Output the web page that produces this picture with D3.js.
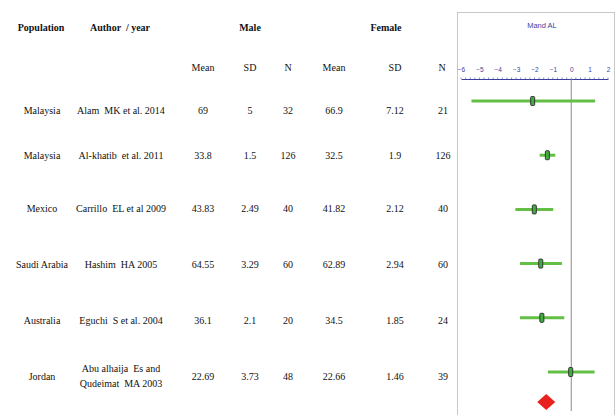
<!DOCTYPE html>
<html><head><meta charset="utf-8">
<script src="https://cdn.jsdelivr.net/npm/d3@7"></script>
<style>body{margin:0;background:#fff}svg{display:block}text{white-space:pre}</style>
</head><body><div id="c"></div>
<script>
const populations = ["Malaysia","Malaysia","Mexico","Saudi Arabia","Australia","Jordan"];
const authors = [["Alam  MK et al. 2014"],["Al-khatib  et al. 2011"],["Carrillo  EL et al 2009"],["Hashim  HA 2005"],["Eguchi  S et al. 2004"],["Abu alhaija  Es and","Qudeimat  MA 2003"]];
const maleMean = ["69","33.8","43.83","64.55","36.1","22.69"];
const maleSD = ["5","1.5","2.49","3.29","2.1","3.73"];
const maleN = ["32","126","40","60","20","48"];
const femaleMean = ["66.9","32.5","41.82","62.89","34.5","22.66"];
const femaleSD = ["7.12","1.9","2.12","2.94","1.85","1.46"];
const femaleN = ["21","126","40","60","24","39"];
// forest plot values (female - male mean difference with CI)
const effect = [-2.1,-1.3,-2.01,-1.66,-1.6,-0.03];
const ciLow = [-5.43,-1.72,-3.04,-2.79,-2.79,-1.27];
const ciHigh = [1.30,-0.87,-0.98,-0.51,-0.38,1.27];
const pooled = {est:-1.36, lo:-1.85, hi:-0.87};
const ticks = [-6,-5,-4,-3,-2,-1,0,1,2];
const plotTitle = "Mand AL";

const W=616,H=415;
const svg=d3.select("#c").append("svg").attr("width",W).attr("height",H);
const idx=d3.range(populations.length);
const y=d3.scalePoint().domain(idx).range([101,372]);
const textY=[110,155,208,264,320,376];
const x=d3.scaleLinear().domain([-6,2]).range([461,608]);

const serif="'Liberation Serif','Times New Roman',serif";
// headers
const hdr=[["Population",41],["Author  / year",120],["Male",250],["Female",386]];
svg.selectAll("text.h").data(hdr).enter().append("text")
 .attr("x",d=>d[1]).attr("y",31).attr("text-anchor","middle")
 .attr("font-family",serif).attr("font-weight","bold").attr("font-size",10).attr("fill","#111").text(d=>d[0]);
const sub=[["Mean",203],["SD",250],["N",288],["Mean",334],["SD",395],["N",442]];
svg.selectAll("text.s").data(sub).enter().append("text")
 .attr("x",d=>d[1]).attr("y",71).attr("text-anchor","middle")
 .attr("font-family",serif).attr("font-size",10).attr("fill","#111").text(d=>d[0]);

const cols=[[populations,42],[maleMean,203],[maleSD,250],[maleN,288],[femaleMean,334],[femaleSD,395],[femaleN,443]];
cols.forEach(([arr,cx])=>{
  svg.append("g").selectAll("text").data(idx).enter().append("text")
   .attr("x",cx).attr("y",i=>textY[i]).attr("dy","0.35em").attr("text-anchor","middle")
   .attr("font-family",serif).attr("font-size",10).attr("fill","#111").text(i=>arr[i]);
});
const ag=svg.append("g");
idx.forEach(i=>{
  const lines=authors[i];
  lines.forEach((t,k)=>{
    ag.append("text").attr("x",121).attr("y",textY[i]+(k-(lines.length-1)/2)*14.5)
     .attr("dy","0.35em").attr("text-anchor","middle").attr("font-family",serif).attr("font-size",10)
     .attr("fill","#111").text(t);
  });
});

// forest panel
svg.append("rect").attr("x",457.5).attr("y",12.5).attr("width",157).attr("height",410)
 .attr("fill","none").attr("stroke","#c8c8c8").attr("stroke-width",1);
const blue="#3a3fa0";
svg.append("text").attr("x",542).attr("y",28).attr("text-anchor","middle")
 .attr("font-family","'Liberation Sans Narrow','Liberation Sans',Arial,sans-serif").attr("font-size",7.5).attr("fill",blue).text(plotTitle);
const axisY=79;
const ax=d3.axisTop(x).tickValues(ticks).tickSize(0).tickPadding(7).tickFormat(d3.format("d"));
const ag2=svg.append("g").attr("transform",`translate(0,${axisY})`).call(ax);
ag2.select(".domain").attr("stroke",blue).attr("stroke-width",1);
ag2.selectAll("text").attr("fill",blue).attr("font-size",6.5).attr("font-family","'Liberation Sans Narrow','Liberation Sans',Arial,sans-serif");
// minor ticks
svg.append("g").selectAll("line").data(d3.range(-6,2.001,0.25)).enter().append("line")
 .attr("x1",d=>x(d)).attr("x2",d=>x(d)).attr("y1",axisY-1.5).attr("y2",axisY)
 .attr("stroke",blue).attr("stroke-width",0.6);
// zero line
svg.append("line").attr("x1",x(0)).attr("x2",x(0)).attr("y1",axisY).attr("y2",411)
 .attr("stroke","#8a8a8a").attr("stroke-width",1);
const green="#63bf45";
svg.append("g").selectAll("line").data(idx).enter().append("line")
 .attr("x1",i=>x(ciLow[i])).attr("x2",i=>x(ciHigh[i])).attr("y1",i=>y(i)).attr("y2",i=>y(i))
 .attr("stroke",green).attr("stroke-width",3);
svg.append("g").selectAll("rect").data(idx).enter().append("rect")
 .attr("x",i=>x(effect[i])-2).attr("y",i=>y(i)-4.5).attr("width",4).attr("height",9).attr("rx",1)
 .attr("fill","#3fae3f").attr("stroke","#333").attr("stroke-width",1);
const dy=402;
svg.append("path").attr("d",`M${x(pooled.lo)},${dy}L${x(pooled.est)},${dy-8}L${x(pooled.hi)},${dy}L${x(pooled.est)},${dy+8}Z`)
 .attr("fill","#e8201e");
</script></body></html>
